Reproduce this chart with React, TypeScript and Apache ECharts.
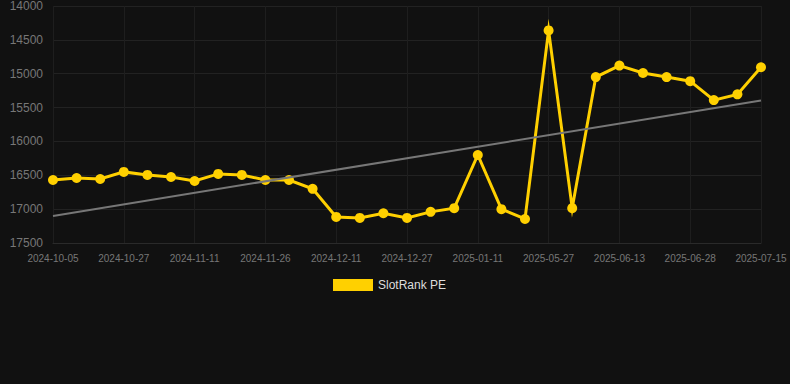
import React, { useEffect, useRef } from "react";
import * as echarts from "echarts";

const categories = [
  "2024-10-05", "2024-10-12", "2024-10-20", "2024-10-27", "2024-11-01", "2024-11-06",
  "2024-11-11", "2024-11-16", "2024-11-21", "2024-11-26", "2024-12-01", "2024-12-06",
  "2024-12-11", "2024-12-16", "2024-12-22", "2024-12-27", "2025-01-01", "2025-01-06",
  "2025-01-11", "2025-02-20", "2025-04-05", "2025-05-27", "2025-06-02", "2025-06-08",
  "2025-06-13", "2025-06-18", "2025-06-23", "2025-06-28", "2025-07-04", "2025-07-10",
  "2025-07-15",
];

const rankValues = [
  16570, 16540, 16555, 16450, 16495, 16525,
  16585, 16480, 16495, 16570, 16570, 16700,
  17115, 17130, 17060, 17130, 17040, 16985,
  16200, 17000, 17145, 14360, 16985, 15050,
  14880, 14990, 15050, 15110, 15390, 15305,
  14905,
];

const trendStart = 17100;
const trendEnd = 15395;

const yTicks = { min: 14000, max: 17500, interval: 500 };

export default function App() {
  const ref = useRef<HTMLDivElement>(null);
  useEffect(() => {
    if (!ref.current) return;
    const chart = echarts.init(ref.current, undefined, { renderer: "svg" });
    chart.setOption({
      animation: false,
      backgroundColor: "#111111",
      grid: { left: 53, right: 29, top: 6, bottom: 141, containLabel: false },
      legend: {
        data: ["SlotRank PE"],
        left: 328,
        top: 274,
        icon: "rect",
        itemWidth: 40,
        itemHeight: 12,
        itemGap: 10,
        textStyle: { color: "#dddddd", fontSize: 12, fontFamily: "Liberation Sans, Arial, sans-serif" },
      },
      xAxis: {
        type: "category",
        data: categories,
        boundaryGap: false,
        axisLine: { show: true, lineStyle: { color: "#2a2a2a" } },
        axisTick: { show: false },
        axisLabel: {
          interval: 2,
          color: "#777777",
          fontSize: 10,
          margin: 10,
          fontFamily: "Liberation Sans, Arial, sans-serif",
        },
        splitLine: { show: true, interval: 2, lineStyle: { color: "#1e1e1e" } },
      },
      yAxis: {
        type: "value",
        inverse: true,
        min: yTicks.min,
        max: yTicks.max,
        interval: yTicks.interval,
        axisLine: { show: false },
        axisTick: { show: false },
        axisLabel: {
          color: "#777777",
          fontSize: 12,
          margin: 10,
          formatter: (v: number) => String(v),
          fontFamily: "Liberation Sans, Arial, sans-serif",
        },
        splitLine: { show: true, lineStyle: { color: "#222222" } },
      },
      series: [
        {
          name: "Trend",
          type: "line",
          data: [],
          silent: true,
          markLine: {
            silent: true,
            symbol: ["none", "none"],
            label: { show: false },
            lineStyle: { color: "#777777", width: 2, type: "solid" },
            data: [
              [
                { coord: [categories[0], trendStart] },
                { coord: [categories[categories.length - 1], trendEnd] },
              ],
            ],
          },
        },
        {
          name: "SlotRank PE",
          type: "line",
          data: rankValues,
          color: "#FFD000",
          symbol: "circle",
          symbolSize: 10,
          lineStyle: { color: "#FFD000", width: 3, join: "miter", miterLimit: 20 },
          itemStyle: { color: "#FFD000" },
        },
      ],
    });
    return () => chart.dispose();
  }, []);
  return <div ref={ref} style={{ position: "fixed", left: 0, top: 0, width: 790, height: 384 }} />;
}
